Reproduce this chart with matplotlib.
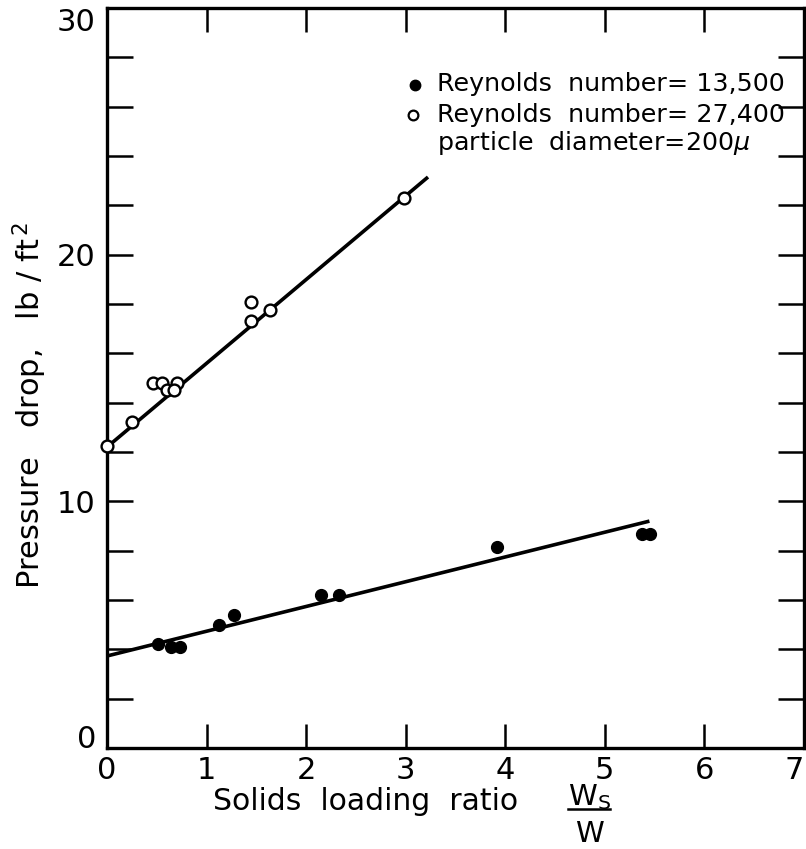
import numpy as np
import matplotlib
matplotlib.use('Agg')
import matplotlib.pyplot as plt
from matplotlib.lines import Line2D

# Reynolds number = 13,500 (filled)
x_lo = [0.51, 0.64, 0.73, 1.12, 1.28, 2.15, 2.33, 3.92, 5.37, 5.45]
y_lo = [4.2, 4.1, 4.1, 5.0, 5.4, 6.2, 6.2, 8.15, 8.67, 8.67]
fit_lo_x = [0.0, 5.43]
fit_lo_y = [3.73, 9.18]

# Reynolds number = 27,400 (open)
x_hi = [0.0, 0.25, 0.46, 0.55, 0.70, 0.60, 0.67, 1.45, 1.45, 1.64, 2.98]
y_hi = [12.25, 13.2, 14.8, 14.8, 14.8, 14.5, 14.5, 18.1, 17.3, 17.75, 22.3]
fit_hi_x = [0.0, 3.21]
fit_hi_y = [12.2, 23.1]

xticks = [0, 1, 2, 3, 4, 5, 6, 7]
yticks = [0, 10, 20, 30]
yminor = list(range(0, 31, 2))

plt.rcParams['font.family'] = 'DejaVu Sans'

fig = plt.figure(figsize=(8.06, 8.49), dpi=100)
ax = fig.add_axes([107/806, 101/849, 697/806, 740/849])

ax.plot(fit_hi_x, fit_hi_y, 'k-', lw=2.6, zorder=2)
ax.plot(fit_lo_x, fit_lo_y, 'k-', lw=2.6, zorder=2)
ax.plot(x_hi, y_hi, 'o', ms=8.5, mfc='white', mec='black', mew=1.7, zorder=3, clip_on=False)
ax.plot(x_lo, y_lo, 'o', ms=8.5, mfc='black', mec='black', zorder=3)

ax.set_xlim(0, 7)
ax.set_ylim(0, 30)
ax.set_xticks(xticks)
ax.set_yticks(yticks)
ax.set_yticks(yminor, minor=True)
ax.tick_params(axis='both', which='both', direction='in', top=True, right=True,
               width=1.8, labelsize=22, colors='black')
ax.tick_params(axis='x', which='major', length=17, pad=6)
ax.tick_params(axis='y', which='both', length=18.5, pad=8)
ax.tick_params(axis='x', which='minor', bottom=False, top=False)
for s in ax.spines.values():
    s.set_linewidth(2.4)

# keep end labels inside the picture
ylabs = ax.get_yticklabels()
ylabs[0].set_va('baseline')
ylabs[-1].set_va('top')
xlabs = ax.get_xticklabels()
xlabs[-1].set_ha('right')

fig.text(30/806, 1 - 405/849, 'Pressure   drop,   lb / ft$^{\\,2}$', fontsize=22,
         rotation=90, ha='center', va='center')

# legend written as text
ax.plot([0.442], [0.896], 'o', ms=7.5, mfc='black', mec='black', transform=ax.transAxes, clip_on=False)
ax.plot([0.439], [0.855], 'o', ms=7, mfc='white', mec='black', mew=1.6, transform=ax.transAxes, clip_on=False)
ax.text(0.4735, 0.897, 'Reynolds  number= 13,500', transform=ax.transAxes, fontsize=18.3, va='center', ha='left')
ax.text(0.4735, 0.855, 'Reynolds  number= 27,400', transform=ax.transAxes, fontsize=18.3, va='center', ha='left')
ax.text(0.4735, 0.818, 'particle  diameter=200$\\mu$', transform=ax.transAxes, fontsize=18.3, va='center', ha='left')

# x label with the W_s / W fraction
fig.text(213/806, 1 - 810/849, 'Solids  loading  ratio', fontsize=21.5, ha='left', va='baseline')
fig.text(589/806, 1 - 805/849, 'W$_{\\mathrm{S}}$', fontsize=21, ha='center', va='baseline')
fig.add_artist(Line2D([568/806, 610/806], [1 - 809/849, 1 - 809/849], color='black', lw=1.8))
fig.text(589/806, 1 - 842/849, 'W', fontsize=21, ha='center', va='baseline')

fig.savefig('out.png', dpi=100)
